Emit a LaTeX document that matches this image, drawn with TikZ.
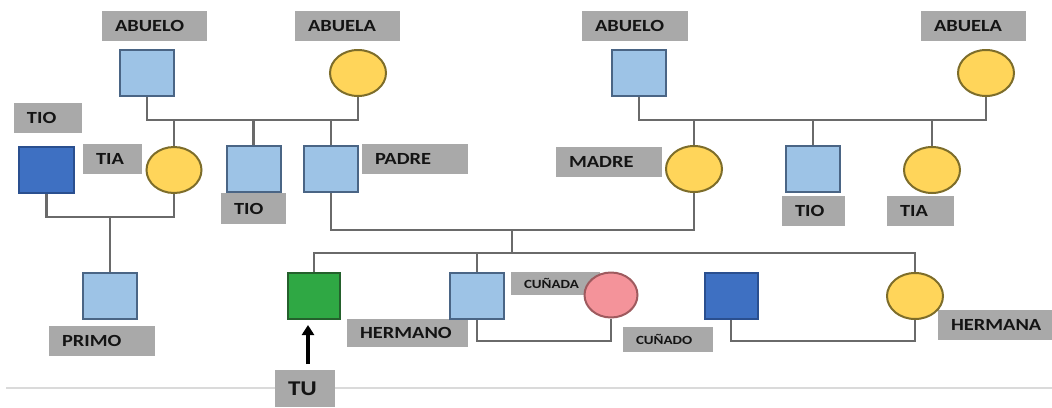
\documentclass[tikz,border=0pt]{standalone}
\usepackage{fontspec}
\setmainfont{Carlito}
\usetikzlibrary{shapes.geometric,arrows.meta}
\pgfdeclarelayer{bg}
\pgfsetlayers{bg,main}

\definecolor{lblue}{HTML}{9DC3E6}
\definecolor{lblueedge}{HTML}{4A6585}
\definecolor{dblue}{HTML}{3E70C2}
\definecolor{dblueedge}{HTML}{2A4F8F}
\definecolor{yel}{HTML}{FFD55A}
\definecolor{yeledge}{HTML}{7D6D2A}
\definecolor{pink}{HTML}{F4939A}
\definecolor{pinkedge}{HTML}{9E5A5E}
\definecolor{grn}{HTML}{2FA844}
\definecolor{grnedge}{HTML}{24602C}
\definecolor{labgray}{HTML}{A9A9A9}
\definecolor{linkgray}{HTML}{6A6A6A}
\definecolor{rulegray}{HTML}{DADADA}

% stretched bold label text
\newcommand\lt[1]{\scalebox{1.2}[1]{\bfseries #1}}

\tikzset{
  male/.style={rectangle, draw=lblueedge, fill=lblue, line width=2pt,
    minimum width=54pt, minimum height=46pt, inner sep=0pt},
  maledark/.style={male, draw=dblueedge, fill=dblue},
  maleyou/.style={male, draw=grnedge, fill=grn},
  female/.style={ellipse, draw=yeledge, fill=yel, line width=2pt,
    minimum width=56pt, minimum height=46pt, inner sep=0pt},
  femalepink/.style={female, draw=pinkedge, fill=pink, minimum width=53pt, minimum height=45pt},
  lab/.style={rectangle, fill=labgray, text=black!92, inner xsep=13pt, inner ysep=0pt,
    minimum height=30pt, align=left, font=\fontsize{17}{17}\selectfont},
  labsmall/.style={lab, font=\fontsize{12.5}{12.5}\selectfont},
  link/.style={draw=linkgray, line width=2.8pt},
  pointer/.style={draw=black, line width=3.4pt, -{Triangle[length=10pt,width=12pt]}}
}

\begin{document}
\begin{tikzpicture}[x=1pt,y=-1pt]
\useasboundingbox (0,0) rectangle (1052,407);

% ---- labels ----
\node[lab, text width=79] (tAbueloL) at (154.5,26) {\lt{ABUELO}};
\node[lab, text width=79] (tAbuelaL) at (347.5,26) {\lt{ABUELA}};
\node[lab, text width=42] (tTioA) at (48,118) {\lt{TIO}};
\node[lab, text width=33] (tTiaL) at (112.5,159) {\lt{TIA}};
\node[lab, text width=39, minimum height=31pt] (tTioB) at (253.5,208.5) {\lt{TIO}};
\node[lab, text width=80] (tPadre) at (415,159) {\lt{PADRE}};
\node[lab, text width=80] (tAbueloR) at (635,26) {\lt{ABUELO}};
\node[lab, text width=79] (tAbuelaR) at (973.5,26) {\lt{ABUELA}};
\node[lab, text width=80] (tMadre) at (609,162) {\lt{MADRE}};
\node[lab, text width=37] (tTioR) at (813.5,211) {\lt{TIO}};
\node[lab, text width=41] (tTiaR) at (920.5,211) {\lt{TIA}};
\node[lab, text width=80] (tPrimo) at (102,341) {\lt{PRIMO}};
\node[lab, text width=34, minimum height=37pt, font=\fontsize{21}{21}\selectfont] (tTu) at (305,388.5) {\lt{TU}};
\node[lab, text width=95, minimum height=28pt] (tHermano) at (407.5,333) {\lt{HERMANO}};
\node[labsmall, text width=63, minimum height=23pt] (tCunada) at (555.5,283.5) {\lt{CUÑADA}};
\node[labsmall, text width=64, minimum height=25pt] (tCunado) at (668,339.5) {\lt{CUÑADO}};
\node[lab, text width=88] (tHermana) at (995,325) {\lt{HERMANA}};

% ---- people ----
\node[male] (abueloL) at (147,73) {};
\node[female] (abuelaL) at (358,73) {};
\node[maledark, minimum width=55pt] (tioA) at (46.5,170) {};
\node[female, minimum width=55pt] (tiaL) at (174,170) {};
\node[male] (tioB) at (253.5,169) {};
\node[male] (padre) at (331,169) {};
\node[male] (abueloR) at (639,73) {};
\node[female] (abuelaR) at (986,73) {};
\node[female] (madre) at (694,169) {};
\node[male] (tioR) at (813,169) {};
\node[female] (tiaR) at (932,170) {};
\node[male] (primo) at (110,296) {};
\node[maleyou, minimum width=52pt] (tu) at (314,296) {};
\node[male] (hermano) at (477,296) {};
\node[femalepink] (cunada) at (611,295) {};
\node[maledark, minimum width=53pt] (cunado) at (731,296) {};
\node[female] (hermana) at (915,296) {};

% pointer to the proband
\draw[pointer] ([xshift=-6pt,yshift=-44pt]tu.south) -- ([xshift=-6pt,yshift=-5pt]tu.south);

% ---- junction points ----
\coordinate (mL) at (253.5,120);
\coordinate (mR) at (813,120);
\coordinate (mT) at (110,217);
\coordinate (mP) at (512,230);
\coordinate (sib) at (512,253);
\coordinate (mH) at (545,341);
\coordinate (mC) at (820,341);

% ---- background, rule and connectors ----
\begin{pgfonlayer}{bg}
\fill[white] (0,0) rectangle (1052,407);
\draw[rulegray, line width=1.5pt] (6,388) -- (1052,388);

\draw[link] (abueloL.south) |- (mL) -| (abuelaL.south);
\draw[link] (tiaL.north) -- (tiaL.north |- mL);
\draw[link] (tioB.north) -- (mL);
\draw[link] (padre.north) -- (padre.north |- mL);

\draw[link] (abueloR.south) |- (mR) -| (abuelaR.south);
\draw[link] (madre.north) -- (madre.north |- mR);
\draw[link] (tioR.north) -- (mR);
\draw[link] (tiaR.north) -- (tiaR.north |- mR);

\draw[link] (tioA.south) |- (mT) -| (tiaL.south);
\draw[link] (mT) -- (primo.north);

\draw[link] (padre.south) |- (mP) -| (madre.south);
\draw[link] (mP) -- (sib);
\draw[link] (tu.north) |- (sib) -| (hermana.north);
\draw[link] (hermano.north) -- (hermano.north |- sib);

\draw[link] (hermano.south) |- (mH) -| (cunada.south);
\draw[link] (cunado.south) |- (mC) -| (hermana.south);
\end{pgfonlayer}
\end{tikzpicture}
\end{document}
